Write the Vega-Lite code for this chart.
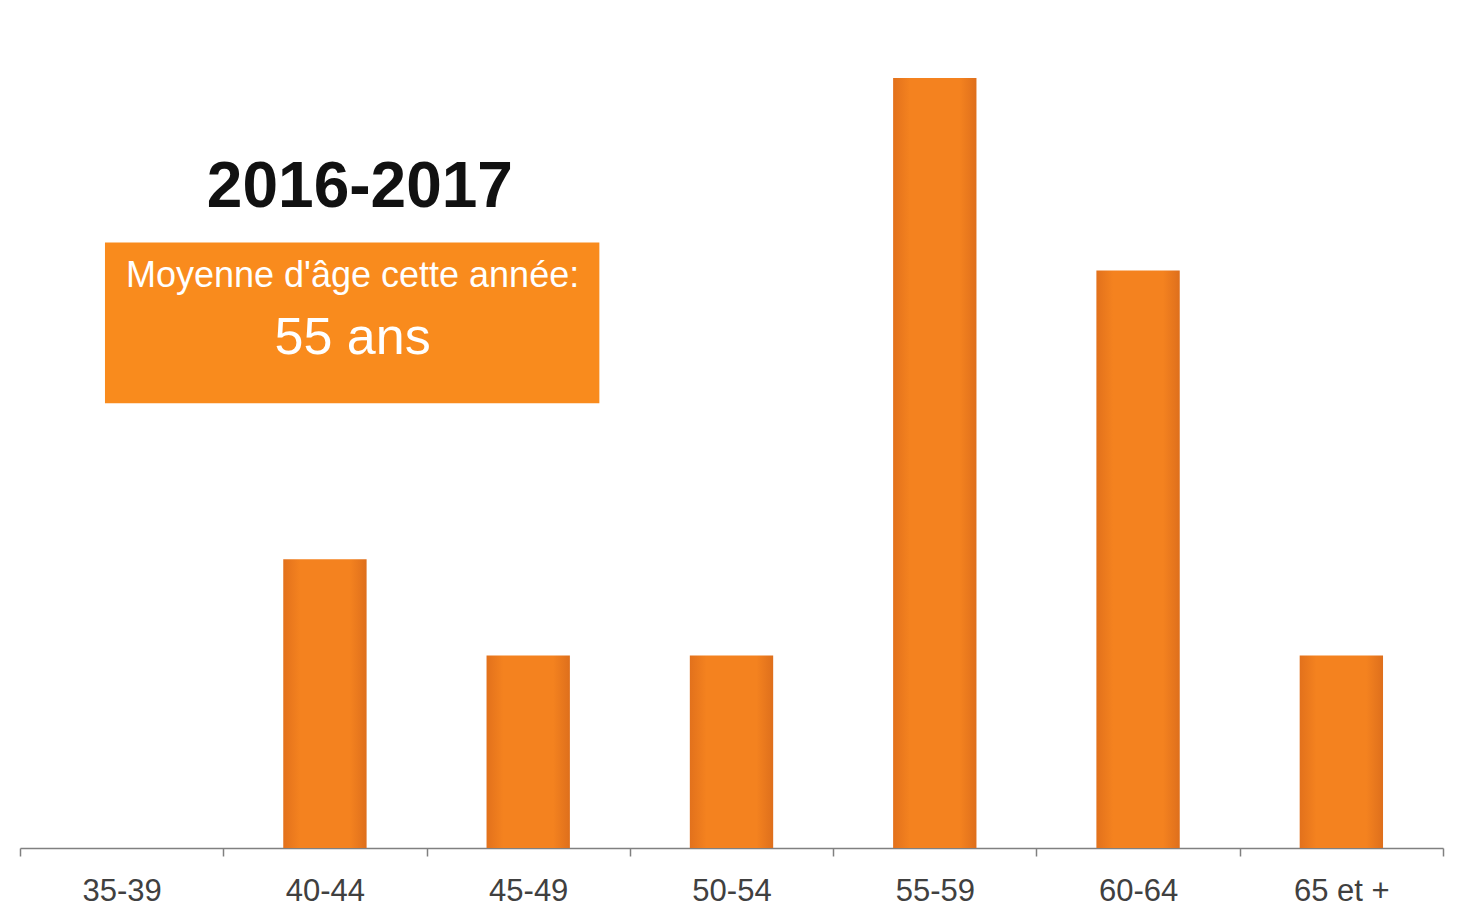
{
  "$schema": "https://vega.github.io/schema/vega-lite/v6.json",
  "width": 1423,
  "height": 770,
  "autosize": {"type": "none"},
  "padding": {"left": 20, "top": 78, "right": 28, "bottom": 70},
  "background": "white",
  "config": {"view": {"stroke": null}},
  "layer": [
    {
      "data": {"values": [
        {"tranche": "35-39", "effectif": 0},
        {"tranche": "40-44", "effectif": 3},
        {"tranche": "45-49", "effectif": 2},
        {"tranche": "50-54", "effectif": 2},
        {"tranche": "55-59", "effectif": 8},
        {"tranche": "60-64", "effectif": 6},
        {"tranche": "65 et +", "effectif": 2}
      ]},
      "mark": {
        "type": "bar",
        "width": {"band": 0.41},
        "color": {
          "gradient": "linear", "x1": 0, "x2": 1, "y1": 0, "y2": 0,
          "stops": [
            {"offset": 0, "color": "#E2711C"},
            {"offset": 0.2, "color": "#F4821F"},
            {"offset": 0.8, "color": "#F4821F"},
            {"offset": 1, "color": "#DE6F1C"}
          ]
        }
      },
      "encoding": {
        "x": {
          "field": "tranche", "type": "nominal", "sort": null,
          "scale": {"paddingInner": 0, "paddingOuter": 0},
          "axis": {
            "title": null, "labelAngle": 0, "labelFont": "Liberation Sans", "labelFontSize": 31,
            "labelColor": "#404040", "labelPadding": 20, "domainColor": "#808080", "domainWidth": 1.5,
            "tickColor": "#808080", "tickWidth": 1.5, "tickSize": 8, "tickBand": "extent", "grid": false
          }
        },
        "y": {"field": "effectif", "type": "quantitative", "scale": {"domain": [0, 8], "nice": false}, "axis": null}
      }
    },
    {
      "data": {"values": [{"x1": 0.418, "x2": 2.85, "y1": 4.62, "y2": 6.29}]},
      "mark": {"type": "rect", "color": "#F98B1D"},
      "encoding": {
        "x": {"field": "x1", "type": "quantitative", "scale": {"domain": [0, 7], "nice": false, "zero": false}, "axis": null},
        "x2": {"field": "x2"},
        "y": {"field": "y1", "type": "quantitative"},
        "y2": {"field": "y2"}
      }
    },
    {
      "data": {"values": [
        {"label": "2016-2017", "px": 1.672, "py": 6.857}
      ]},
      "mark": {"type": "text", "font": "Liberation Sans", "fontSize": 64, "fontWeight": "bold", "color": "#111111", "align": "center", "baseline": "middle"},
      "encoding": {
        "x": {"field": "px", "type": "quantitative", "scale": {"domain": [0, 7], "nice": false, "zero": false}, "axis": null},
        "y": {"field": "py", "type": "quantitative"},
        "text": {"field": "label"}
      }
    },
    {
      "data": {"values": [
        {"label": "Moyenne d'âge cette année:", "px": 1.636, "py": 5.94}
      ]},
      "mark": {"type": "text", "font": "Liberation Sans", "fontSize": 36, "color": "#FFFFFF", "align": "center", "baseline": "middle"},
      "encoding": {
        "x": {"field": "px", "type": "quantitative", "scale": {"domain": [0, 7], "nice": false, "zero": false}, "axis": null},
        "y": {"field": "py", "type": "quantitative"},
        "text": {"field": "label"}
      }
    },
    {
      "data": {"values": [
        {"label": "55 ans", "px": 1.636, "py": 5.30}
      ]},
      "mark": {"type": "text", "font": "Liberation Sans", "fontSize": 52, "color": "#FFFFFF", "align": "center", "baseline": "middle"},
      "encoding": {
        "x": {"field": "px", "type": "quantitative", "scale": {"domain": [0, 7], "nice": false, "zero": false}, "axis": null},
        "y": {"field": "py", "type": "quantitative"},
        "text": {"field": "label"}
      }
    }
  ],
  "resolve": {"scale": {"x": "independent"}}
}
